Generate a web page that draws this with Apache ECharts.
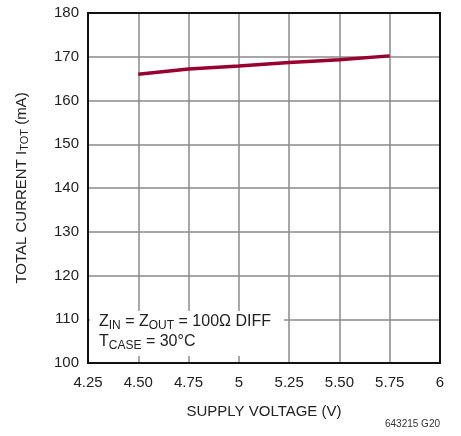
<!DOCTYPE html>
<html><head><meta charset="utf-8">
<script src="https://cdn.jsdelivr.net/npm/echarts@6/dist/echarts.min.js"></script>
<style>html,body{margin:0;padding:0;background:#fff}#c{width:461px;height:436px}</style>
</head><body><div id="c"></div>
<script>
const supplyVoltage = [4.50, 4.75, 5.00, 5.25, 5.50, 5.75];
const totalCurrent = [166.0, 167.2, 167.9, 168.7, 169.3, 170.2];
const xTickLabels = {"4.25":"4.25","4.5":"4.50","4.75":"4.75","5":"5","5.25":"5.25","5.5":"5.50","5.75":"5.75","6":"6"};

const FONT = '"Liberation Sans Narrow","Liberation Sans",Arial,sans-serif';
const frameAxis = {show:true,lineStyle:{color:'#111',width:2}};
const chart = echarts.init(document.getElementById('c'), null, {renderer:'canvas'});
chart.setOption({
  animation:false,
  backgroundColor:'#fff',
  grid:{left:88,right:21,top:13,bottom:73,containLabel:false},
  xAxis:[{
    type:'value',min:4.25,max:6,interval:0.25,
    axisLine:frameAxis,
    axisTick:{show:false},
    splitLine:{show:true,lineStyle:{color:'#8a8a8a',width:1.5}},
    axisLabel:{color:'#222',fontFamily:FONT,fontSize:15,margin:12,
      formatter:v=>xTickLabels[String(+v.toFixed(2))]||''},
    name:'SUPPLY VOLTAGE (V)',nameLocation:'middle',nameGap:41,
    nameTextStyle:{color:'#222',fontFamily:FONT,fontSize:15}
  },{
    type:'value',position:'top',min:4.25,max:6,interval:0.25,
    axisLine:frameAxis,axisTick:{show:false},axisLabel:{show:false},splitLine:{show:false}
  }],
  yAxis:[{
    type:'value',min:100,max:180,interval:10,
    axisLine:frameAxis,
    axisTick:{show:false},
    splitLine:{show:true,lineStyle:{color:'#8a8a8a',width:1.5}},
    axisLabel:{color:'#222',fontFamily:FONT,fontSize:15,margin:9},
    name:'{a|TOTAL CURRENT I}{s|TOT}{a| (mA)}',nameLocation:'middle',nameGap:58,
    nameTextStyle:{color:'#222',rich:{
      a:{fontFamily:FONT,fontSize:15,color:'#222'},
      s:{fontFamily:FONT,fontSize:11,color:'#222',verticalAlign:'bottom',padding:[6,0,0,0]}
    }}
  },{
    type:'value',position:'right',min:100,max:180,interval:10,
    axisLine:frameAxis,axisTick:{show:false},axisLabel:{show:false},splitLine:{show:false}
  }],
  series:[{
    type:'line',data:supplyVoltage.map((v,i)=>[v,totalCurrent[i]]),
    showSymbol:false,lineStyle:{color:'#990030',width:3.5},z:5
  }],
  graphic:[
    {type:'rect',shape:{x:90,y:311,width:194,height:45},style:{fill:'#fff'},z:10},
    {type:'text',left:99,top:312,z:11,style:{
      rich:{a:{fontFamily:FONT,fontSize:16,fill:'#222'},s:{fontFamily:FONT,fontSize:12,fill:'#222',padding:[7,0,0,0]}},
      text:'{a|Z}{s|IN}{a| = Z}{s|OUT}{a| = 100Ω DIFF}\n{a|T}{s|CASE}{a| = 30°C}',
      lineHeight:20
    }},
    {type:'text',right:21,top:419,style:{text:'643215 G20',fontFamily:FONT,fontSize:10,fill:'#333'}}
  ]
});
</script></body></html>
